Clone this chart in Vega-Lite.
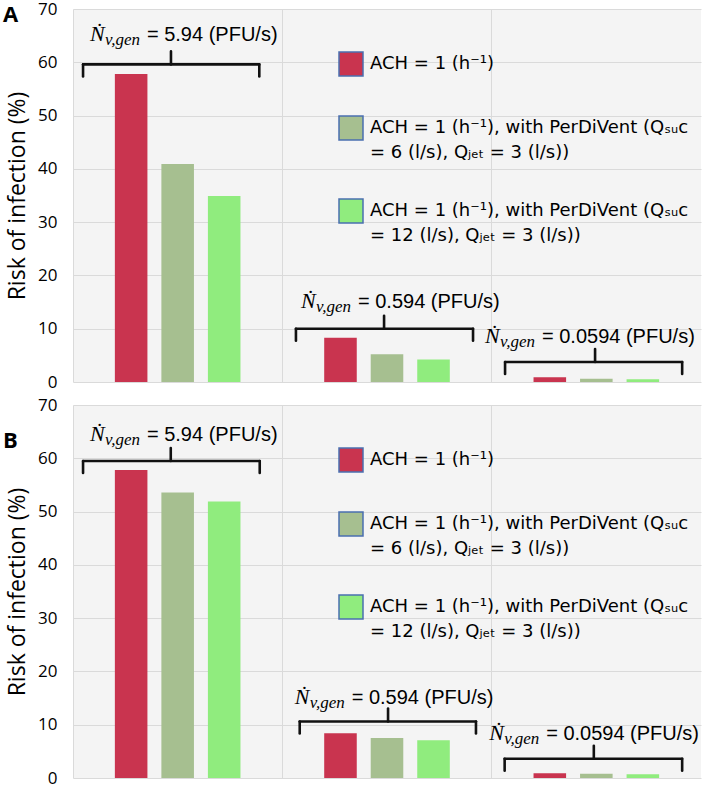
{
  "$schema": "https://vega.github.io/schema/vega-lite/v6.json",
  "padding": {"left": 3, "top": 0, "right": 3, "bottom": 0},
  "background": "#ffffff",
  "config": {
    "view": {"fill": "#f4f4f4", "stroke": null},
    "axis": {"gridColor": "#dadada", "gridWidth": 1}
  },
  "datasets": {
    "bars": [
      {"panel": "A", "group": "g1", "series": "ACH = 1 (h⁻¹)", "risk": 57.8},
      {"panel": "A", "group": "g1", "series": "ACH = 1 (h⁻¹), with PerDiVent (Qₛᵤc\n= 6 (l/s), Qⱼₑₜ = 3 (l/s))", "risk": 40.9},
      {"panel": "A", "group": "g1", "series": "ACH = 1 (h⁻¹), with PerDiVent (Qₛᵤc\n= 12 (l/s), Qⱼₑₜ = 3 (l/s))", "risk": 34.9},
      {"panel": "A", "group": "g2", "series": "ACH = 1 (h⁻¹)", "risk": 8.3},
      {"panel": "A", "group": "g2", "series": "ACH = 1 (h⁻¹), with PerDiVent (Qₛᵤc\n= 6 (l/s), Qⱼₑₜ = 3 (l/s))", "risk": 5.2},
      {"panel": "A", "group": "g2", "series": "ACH = 1 (h⁻¹), with PerDiVent (Qₛᵤc\n= 12 (l/s), Qⱼₑₜ = 3 (l/s))", "risk": 4.2},
      {"panel": "A", "group": "g3", "series": "ACH = 1 (h⁻¹)", "risk": 0.9},
      {"panel": "A", "group": "g3", "series": "ACH = 1 (h⁻¹), with PerDiVent (Qₛᵤc\n= 6 (l/s), Qⱼₑₜ = 3 (l/s))", "risk": 0.6},
      {"panel": "A", "group": "g3", "series": "ACH = 1 (h⁻¹), with PerDiVent (Qₛᵤc\n= 12 (l/s), Qⱼₑₜ = 3 (l/s))", "risk": 0.5},
      {"panel": "B", "group": "g1", "series": "ACH = 1 (h⁻¹)", "risk": 57.8},
      {"panel": "B", "group": "g1", "series": "ACH = 1 (h⁻¹), with PerDiVent (Qₛᵤc\n= 6 (l/s), Qⱼₑₜ = 3 (l/s))", "risk": 53.6},
      {"panel": "B", "group": "g1", "series": "ACH = 1 (h⁻¹), with PerDiVent (Qₛᵤc\n= 12 (l/s), Qⱼₑₜ = 3 (l/s))", "risk": 51.9},
      {"panel": "B", "group": "g2", "series": "ACH = 1 (h⁻¹)", "risk": 8.4},
      {"panel": "B", "group": "g2", "series": "ACH = 1 (h⁻¹), with PerDiVent (Qₛᵤc\n= 6 (l/s), Qⱼₑₜ = 3 (l/s))", "risk": 7.5},
      {"panel": "B", "group": "g2", "series": "ACH = 1 (h⁻¹), with PerDiVent (Qₛᵤc\n= 12 (l/s), Qⱼₑₜ = 3 (l/s))", "risk": 7.1},
      {"panel": "B", "group": "g3", "series": "ACH = 1 (h⁻¹)", "risk": 0.9},
      {"panel": "B", "group": "g3", "series": "ACH = 1 (h⁻¹), with PerDiVent (Qₛᵤc\n= 6 (l/s), Qⱼₑₜ = 3 (l/s))", "risk": 0.8},
      {"panel": "B", "group": "g3", "series": "ACH = 1 (h⁻¹), with PerDiVent (Qₛᵤc\n= 12 (l/s), Qⱼₑₜ = 3 (l/s))", "risk": 0.7}
    ],
    "notes": [
      {"panel": "A", "x1": 0.048, "x2": 0.89, "xc": 0.468, "by": 59.6, "lx": 0.081, "ly": 64.0, "num": "= 5.94 (PFU/s)"},
      {"panel": "A", "x1": 1.065, "x2": 1.911, "xc": 1.486, "by": 10.0, "lx": 1.089, "ly": 13.9, "num": "= 0.594 (PFU/s)"},
      {"panel": "A", "x1": 2.064, "x2": 2.91, "xc": 2.494, "by": 3.75, "lx": 1.968, "ly": 7.3, "num": "= 0.0594 (PFU/s)"},
      {"panel": "B", "x1": 0.048, "x2": 0.892, "xc": 0.467, "by": 59.5, "lx": 0.081, "ly": 63.3, "num": "= 5.94 (PFU/s)"},
      {"panel": "B", "x1": 1.083, "x2": 1.925, "xc": 1.505, "by": 10.6, "lx": 1.059, "ly": 13.9, "num": "= 0.594 (PFU/s)"},
      {"panel": "B", "x1": 2.062, "x2": 2.91, "xc": 2.488, "by": 3.6, "lx": 1.988, "ly": 7.1, "num": "= 0.0594 (PFU/s)"}
    ]
  },
  "spacing": 6,
  "resolve": {"legend": {"color": "independent"}},
  "vconcat": [
    {
      "width": 628,
      "height": 373,
      "layer": [
        {
          "data": {"name": "bars"},
          "transform": [{"filter": "datum.panel == 'A'"}],
          "mark": {"type": "bar"},
          "encoding": {
            "x": {"field": "group", "type": "nominal", "scale": {"paddingInner": 0, "paddingOuter": 0},
              "axis": {"title": null, "labels": false, "ticks": false, "domain": false, "grid": true, "bandPosition": 0}},
            "xOffset": {"field": "series", "type": "nominal", "sort": null, "scale": {"paddingInner": 0.3, "paddingOuter": 0.9}},
            "y": {"field": "risk", "type": "quantitative", "scale": {"domain": [0, 70]},
              "axis": {"values": [0, 10, 20, 30, 40, 50, 60, 70], "title": "Risk of infection (%)", "titleFont": "Open Sans", "titleFontSize": 23, "titleFontWeight": "normal", "titleColor": "#000000", "titlePadding": 8, "labelFont": "Open Sans", "labelFontSize": 17, "labelColor": "#000000", "labelPadding": 16, "ticks": false, "domain": false, "grid": true}},
            "color": {"field": "series", "type": "nominal", "sort": null,
              "scale": {"range": ["#c9344f", "#a6bf90", "#90ec7e"]},
              "legend": {"orient": "none", "legendX": 265, "legendY": 42, "title": null, "padding": 0, "symbolType": "square", "symbolSize": 576, "symbolStrokeColor": "#4a6fb0", "symbolStrokeWidth": 1.5, "symbolOpacity": 1, "labelFont": "DejaVu Sans", "labelFontSize": 18, "labelColor": "#000000", "labelLimit": 420, "labelOffset": 6, "rowPadding": 34, "labelExpr": "split(datum.label, '\\n')",
                "encode": {"labels": {"update": {"lineHeight": {"value": 25}}}}}}
          }
        },
        {
          "data": {"name": "notes"},
          "transform": [{"filter": "datum.panel == 'A'"}],
          "layer": [
            {"mark": {"type": "rule", "color": "#111111", "strokeWidth": 2.6, "strokeCap": "round"},
              "encoding": {"x": {"field": "x1", "type": "quantitative", "scale": {"domain": [0, 3], "nice": false}, "axis": null}, "x2": {"field": "x2"}, "y": {"field": "by", "type": "quantitative", "title": "Risk of infection (%)"}}},
            {"mark": {"type": "rule", "color": "#111111", "strokeWidth": 2.6, "strokeCap": "round", "y2Offset": 12},
              "encoding": {"x": {"field": "x1", "type": "quantitative", "scale": {"domain": [0, 3], "nice": false}, "axis": null}, "y": {"field": "by", "type": "quantitative", "title": "Risk of infection (%)"}, "y2": {"field": "by"}}},
            {"mark": {"type": "rule", "color": "#111111", "strokeWidth": 2.6, "strokeCap": "round", "y2Offset": 12},
              "encoding": {"x": {"field": "x2", "type": "quantitative", "scale": {"domain": [0, 3], "nice": false}, "axis": null}, "y": {"field": "by", "type": "quantitative", "title": "Risk of infection (%)"}, "y2": {"field": "by"}}},
            {"mark": {"type": "rule", "color": "#111111", "strokeWidth": 2.6, "strokeCap": "round", "y2Offset": -13},
              "encoding": {"x": {"field": "xc", "type": "quantitative", "scale": {"domain": [0, 3], "nice": false}, "axis": null}, "y": {"field": "by", "type": "quantitative", "title": "Risk of infection (%)"}, "y2": {"field": "by"}}},
            {"mark": {"type": "text", "text": "Ṅ", "font": "Liberation Serif", "fontStyle": "italic", "fontSize": 22, "align": "left", "baseline": "alphabetic", "color": "#000000"},
              "encoding": {"x": {"field": "lx", "type": "quantitative", "scale": {"domain": [0, 3], "nice": false}, "axis": null}, "y": {"field": "ly", "type": "quantitative", "title": "Risk of infection (%)"}}},
            {"mark": {"type": "text", "text": "v,gen", "font": "Liberation Serif", "fontStyle": "italic", "fontSize": 17, "align": "left", "baseline": "alphabetic", "dx": 15, "dy": 4, "color": "#000000"},
              "encoding": {"x": {"field": "lx", "type": "quantitative", "scale": {"domain": [0, 3], "nice": false}, "axis": null}, "y": {"field": "ly", "type": "quantitative", "title": "Risk of infection (%)"}}},
            {"mark": {"type": "text", "font": "Liberation Sans", "fontSize": 20, "align": "left", "baseline": "alphabetic", "dx": 57, "color": "#000000"},
              "encoding": {"x": {"field": "lx", "type": "quantitative", "scale": {"domain": [0, 3], "nice": false}, "axis": null}, "y": {"field": "ly", "type": "quantitative", "title": "Risk of infection (%)"}, "text": {"field": "num"}}},
            {"data": {"values": [{"tag": "A"}]},
              "mark": {"type": "text", "font": "Open Sans", "fontSize": 22, "fontWeight": "bold", "align": "left", "baseline": "alphabetic", "dx": -70, "dy": 13, "color": "#000000"},
              "encoding": {"x": {"datum": 0, "type": "quantitative", "scale": {"domain": [0, 3], "nice": false}, "axis": null}, "y": {"datum": 70, "type": "quantitative", "title": "Risk of infection (%)"}, "text": {"field": "tag"}}}
          ]
        }
      ],
      "resolve": {"scale": {"x": "independent"}}
    },
    {
      "width": 628,
      "height": 373,
      "layer": [
        {
          "data": {"name": "bars"},
          "transform": [{"filter": "datum.panel == 'B'"}],
          "mark": {"type": "bar"},
          "encoding": {
            "x": {"field": "group", "type": "nominal", "scale": {"paddingInner": 0, "paddingOuter": 0},
              "axis": {"title": null, "labels": false, "ticks": false, "domain": false, "grid": true, "bandPosition": 0}},
            "xOffset": {"field": "series", "type": "nominal", "sort": null, "scale": {"paddingInner": 0.3, "paddingOuter": 0.9}},
            "y": {"field": "risk", "type": "quantitative", "scale": {"domain": [0, 70]},
              "axis": {"values": [0, 10, 20, 30, 40, 50, 60, 70], "title": "Risk of infection (%)", "titleFont": "Open Sans", "titleFontSize": 23, "titleFontWeight": "normal", "titleColor": "#000000", "titlePadding": 8, "labelFont": "Open Sans", "labelFontSize": 17, "labelColor": "#000000", "labelPadding": 16, "ticks": false, "domain": false, "grid": true}},
            "color": {"field": "series", "type": "nominal", "sort": null,
              "scale": {"range": ["#c9344f", "#a6bf90", "#90ec7e"]},
              "legend": {"orient": "none", "legendX": 265, "legendY": 42, "title": null, "padding": 0, "symbolType": "square", "symbolSize": 576, "symbolStrokeColor": "#4a6fb0", "symbolStrokeWidth": 1.5, "symbolOpacity": 1, "labelFont": "DejaVu Sans", "labelFontSize": 18, "labelColor": "#000000", "labelLimit": 420, "labelOffset": 6, "rowPadding": 34, "labelExpr": "split(datum.label, '\\n')",
                "encode": {"labels": {"update": {"lineHeight": {"value": 25}}}}}}
          }
        },
        {
          "data": {"name": "notes"},
          "transform": [{"filter": "datum.panel == 'B'"}],
          "layer": [
            {"mark": {"type": "rule", "color": "#111111", "strokeWidth": 2.6, "strokeCap": "round"},
              "encoding": {"x": {"field": "x1", "type": "quantitative", "scale": {"domain": [0, 3], "nice": false}, "axis": null}, "x2": {"field": "x2"}, "y": {"field": "by", "type": "quantitative", "title": "Risk of infection (%)"}}},
            {"mark": {"type": "rule", "color": "#111111", "strokeWidth": 2.6, "strokeCap": "round", "y2Offset": 12},
              "encoding": {"x": {"field": "x1", "type": "quantitative", "scale": {"domain": [0, 3], "nice": false}, "axis": null}, "y": {"field": "by", "type": "quantitative", "title": "Risk of infection (%)"}, "y2": {"field": "by"}}},
            {"mark": {"type": "rule", "color": "#111111", "strokeWidth": 2.6, "strokeCap": "round", "y2Offset": 12},
              "encoding": {"x": {"field": "x2", "type": "quantitative", "scale": {"domain": [0, 3], "nice": false}, "axis": null}, "y": {"field": "by", "type": "quantitative", "title": "Risk of infection (%)"}, "y2": {"field": "by"}}},
            {"mark": {"type": "rule", "color": "#111111", "strokeWidth": 2.6, "strokeCap": "round", "y2Offset": -13},
              "encoding": {"x": {"field": "xc", "type": "quantitative", "scale": {"domain": [0, 3], "nice": false}, "axis": null}, "y": {"field": "by", "type": "quantitative", "title": "Risk of infection (%)"}, "y2": {"field": "by"}}},
            {"mark": {"type": "text", "text": "Ṅ", "font": "Liberation Serif", "fontStyle": "italic", "fontSize": 22, "align": "left", "baseline": "alphabetic", "color": "#000000"},
              "encoding": {"x": {"field": "lx", "type": "quantitative", "scale": {"domain": [0, 3], "nice": false}, "axis": null}, "y": {"field": "ly", "type": "quantitative", "title": "Risk of infection (%)"}}},
            {"mark": {"type": "text", "text": "v,gen", "font": "Liberation Serif", "fontStyle": "italic", "fontSize": 17, "align": "left", "baseline": "alphabetic", "dx": 15, "dy": 4, "color": "#000000"},
              "encoding": {"x": {"field": "lx", "type": "quantitative", "scale": {"domain": [0, 3], "nice": false}, "axis": null}, "y": {"field": "ly", "type": "quantitative", "title": "Risk of infection (%)"}}},
            {"mark": {"type": "text", "font": "Liberation Sans", "fontSize": 20, "align": "left", "baseline": "alphabetic", "dx": 57, "color": "#000000"},
              "encoding": {"x": {"field": "lx", "type": "quantitative", "scale": {"domain": [0, 3], "nice": false}, "axis": null}, "y": {"field": "ly", "type": "quantitative", "title": "Risk of infection (%)"}, "text": {"field": "num"}}},
            {"data": {"values": [{"tag": "B"}]},
              "mark": {"type": "text", "font": "Open Sans", "fontSize": 22, "fontWeight": "bold", "align": "left", "baseline": "alphabetic", "dx": -70, "dy": 43, "color": "#000000"},
              "encoding": {"x": {"datum": 0, "type": "quantitative", "scale": {"domain": [0, 3], "nice": false}, "axis": null}, "y": {"datum": 70, "type": "quantitative", "title": "Risk of infection (%)"}, "text": {"field": "tag"}}}
          ]
        }
      ],
      "resolve": {"scale": {"x": "independent"}}
    }
  ]
}
